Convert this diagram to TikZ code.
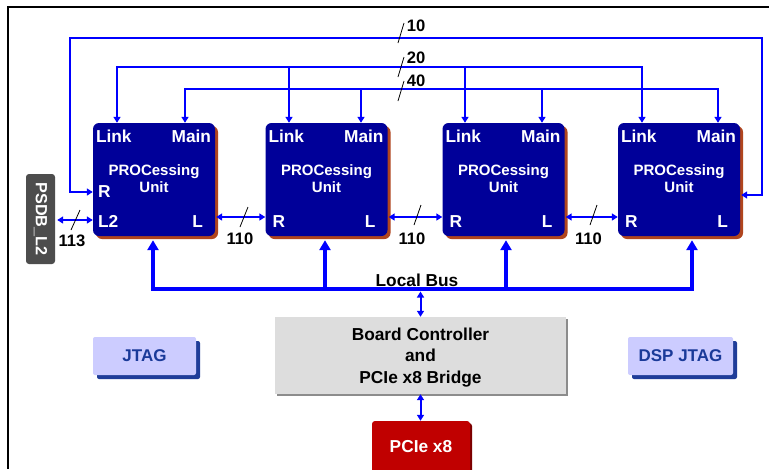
\documentclass[tikz,border=0pt]{standalone}
\usepackage{fontspec}
\setmainfont{Liberation Sans}
\usetikzlibrary{arrows.meta,calc,shadows}
\definecolor{pufill}{HTML}{000099}
\definecolor{pushadow}{HTML}{B0451E}
\definecolor{wireblue}{HTML}{0000FF}
\definecolor{bcfill}{HTML}{DDDDDD}
\definecolor{bcshadow}{HTML}{8C8C8C}
\definecolor{jtagfill}{HTML}{CCCCFF}
\definecolor{jtagshadow}{HTML}{1F3D99}
\definecolor{jtagtext}{HTML}{1A3A99}
\definecolor{pciefill}{HTML}{C00000}
\definecolor{pcieshadow}{HTML}{7A0000}
\definecolor{psdbfill}{HTML}{4D4D4D}
\begin{document}
\begin{tikzpicture}[x=1pt,y=-1pt,
  >={Triangle[width=7pt,length=6pt]},
  pubox/.style={fill=pufill, rounded corners=6pt, minimum width=122pt, minimum height=113pt, inner sep=0pt,
    general shadow={fill=pushadow, shadow xshift=3pt, shadow yshift=-3pt}},
  lbl/.style={font=\fontsize{17.3}{20}\selectfont\bfseries, inner sep=0pt},
  wlbl/.style={lbl, text=white},
  titlelbl/.style={font=\fontsize{15}{17}\selectfont\bfseries, inner sep=0pt, text=white},
  numlbl/.style={font=\fontsize{16.6}{19}\selectfont\bfseries, inner sep=0pt},
  wireline/.style={draw=wireblue, line width=2pt},
  busline/.style={draw=wireblue, line width=3.5pt, >={Triangle[width=11pt,length=10pt]}},
  slash/.style={draw=black, line width=0.8pt},
  bcbox/.style={fill=bcfill, minimum width=291pt, minimum height=77pt, inner sep=0pt,
    general shadow={fill=bcshadow, shadow xshift=2pt, shadow yshift=-2pt}},
  bctext/.style={align=center, inner sep=0pt, font=\fontsize{17.3}{21.5}\selectfont\bfseries},
  jtagbox/.style={fill=jtagfill, rounded corners=2pt, minimum height=38pt, inner sep=0pt, text=jtagtext,
    font=\fontsize{17}{19}\selectfont\bfseries,
    general shadow={fill=jtagshadow, shadow xshift=4pt, shadow yshift=-4pt}},
  pciebox/.style={fill=pciefill, rounded corners=3pt, minimum width=98pt, minimum height=56pt, inner sep=0pt,
    general shadow={fill=pcieshadow, shadow xshift=2pt, shadow yshift=-2pt}},
  psdbbox/.style={fill=psdbfill, rounded corners=3pt, minimum width=29pt, minimum height=90pt, inner sep=0pt}
]
\useasboundingbox (0,0) rectangle (769,469);
\fill[white] (0,0) rectangle (769,469);

% frame
\draw[line width=2pt] (769,7) -- (8,7) -- (8,469);

% processing units
\foreach \i/\x in {1/154,2/326.5,3/503.5,4/679}{
  \node[pubox] (PU\i) at (\x,179.5) {};
  \node[wlbl, anchor=base west] (link\i) at ($(PU\i.north west)+(3,20)$) {Link};
  \node[wlbl, anchor=base east] (main\i) at ($(PU\i.north east)+(-4,20)$) {Main};
  \node[titlelbl, anchor=base] (proc\i) at ($(PU\i.north)+(0,53)$) {PROCessing};
  \node[titlelbl, anchor=base] (unit\i) at ($(PU\i.north)+(0,70)$) {Unit};
  \node[wlbl, anchor=base east] (pl\i) at ($(PU\i.north east)+(-12,105)$) {L};
}
\node[wlbl, anchor=base west] (pr1) at ($(PU1.north west)+(5,75)$) {R};
\node[wlbl, anchor=base west] (pl21) at ($(PU1.north west)+(5,105)$) {L2};
\foreach \i in {2,3,4}{
  \node[wlbl, anchor=base west] (pr\i) at ($(PU\i.north west)+(7,105)$) {R};
}

% PSDB_L2
\node[psdbbox] (psdb) at (40.5,219) {};
\node[wlbl, rotate=-90, font=\fontsize{16.2}{19}\selectfont\bfseries] (psdbtxt) at (psdb.center) {PSDB\_L2};

% other boxes
\node[bcbox] (bc) at (420.5,355.5) {};
\node[bctext] (bctxt) at (420.5,357.5) {Board Controller\\and\\PCIe x8 Bridge};
\node[pciebox] (pcie) at (421,449) {};
\node[wlbl, anchor=center] (pcietxt) at (421,447) {PCIe x8};
\node[jtagbox, minimum width=103pt] (jtag) at (144.5,356) {JTAG};
\node[jtagbox, minimum width=105pt] (dspjtag) at (680.5,356) {DSP JTAG};

% coordinates
\coordinate (r1) at ($(PU1.west)+(0,12.5)$);
\coordinate (r4) at ($(PU4.east)+(1,15.5)$);
\coordinate (c10L) at (70,38);
\coordinate (c10R) at (762,38);
\coordinate (k1) at (117,67);
\coordinate (k2) at (289,67);
\coordinate (k3) at (465,67);
\coordinate (k4) at (642,67);
\coordinate (m1) at (185,89);
\coordinate (m2) at (361,89);
\coordinate (m3) at (542,89);
\coordinate (m4) at (718,89);
\coordinate (lr) at (0,217);
\coordinate (l2y) at (0,220);
\coordinate (b1) at (153,289);
\coordinate (b2) at (325,289);
\coordinate (b3) at (506,289);
\coordinate (b4) at (692,289);

% link-10 ring
\draw[wireline,<->] (r1) -| (c10L) -- (c10R) |- (r4);
% link-20
\draw[wireline,<->] (k1 |- PU1.north) -- (k1) -- (k4) -- (k4 |- PU4.north);
\draw[wireline,->] (k2) -- (k2 |- PU2.north);
\draw[wireline,->] (k3) -- (k3 |- PU3.north);
% main-40
\draw[wireline,<->] (m1 |- PU1.north) -- (m1) -- (m4) -- (m4 |- PU4.north);
\draw[wireline,->] (m2) -- (m2 |- PU2.north);
\draw[wireline,->] (m3) -- (m3 |- PU3.north);

% L-R links
\draw[wireline,<->] ([xshift=1pt]PU1.east |- lr) -- (PU2.west |- lr);
\draw[wireline,<->] ([xshift=1pt]PU2.east |- lr) -- (PU3.west |- lr);
\draw[wireline,<->] ([xshift=1pt]PU3.east |- lr) -- (PU4.west |- lr);
\draw[wireline,<->, shorten <=2pt] (psdb.east |- l2y) -- (PU1.west |- l2y);

% local bus
\draw[busline,<->, shorten <=4pt, shorten >=4pt] (b1 |- PU1.south) -- (b1) -- (b4) -- (b4 |- PU4.south);
\draw[busline,->, shorten >=4pt] (b2) -- (b2 |- PU2.south);
\draw[busline,->, shorten >=4pt] (b3) -- (b3 |- PU3.south);
\node[lbl, anchor=base] (lbus) at (417,286) {Local Bus};

% bus to controller, controller to PCIe
\draw[wireline,<->, shorten <=2.5pt] (bc.north |- b1) -- (bc.north);
\draw[wireline,<->] (bc.south) -- (bc.south |- pcie.north);

% width slashes and labels
\draw[slash] (398,43) -- (404,23);
\node[numlbl] (n10) at (416,26) {10};
\draw[slash] (398,77) -- (404,57);
\node[numlbl] (n20) at (416,58) {20};
\draw[slash] (398,101) -- (404,81);
\node[numlbl] (n40) at (416,81) {40};
\draw[slash] (240,227) -- (248,207);
\node[numlbl] (n110a) at (240,239) {110};
\draw[slash] (414,225) -- (421,205);
\node[numlbl] (n110b) at (412,239) {110};
\draw[slash] (590,225) -- (597,205);
\node[numlbl] (n110c) at (588.5,239) {110};
\draw[slash] (71,230) -- (80,210);
\node[numlbl] (n113) at (72,241) {113};
\end{tikzpicture}
\end{document}
